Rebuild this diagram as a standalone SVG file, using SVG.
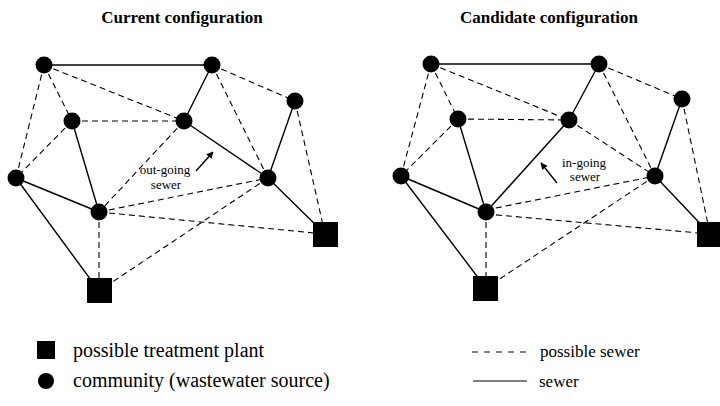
<svg xmlns="http://www.w3.org/2000/svg" width="720" height="406" viewBox="0 0 720 406">
<defs>
<style>
.sol{stroke:#000;stroke-width:1.4;fill:none}
.das{stroke:#000;stroke-width:1.1;fill:none;stroke-dasharray:6,4}
.nd{fill:#000}
.title{font-family:"Liberation Serif","Times New Roman",serif;font-weight:bold;font-size:17px;text-anchor:middle;fill:#000}
.lbl{font-family:"Liberation Serif","Times New Roman",serif;font-size:13px;text-anchor:middle;fill:#000}
.leg{font-family:"Liberation Serif","Times New Roman",serif;font-size:20px;fill:#000}
.leg2{font-family:"Liberation Serif","Times New Roman",serif;font-size:17px;fill:#000}
</style>
<marker id="ah" viewBox="0 0 10 10" refX="9" refY="5" markerWidth="7" markerHeight="7" orient="auto" markerUnits="userSpaceOnUse">
<path d="M0,0 L10,5 L0,10 z" fill="#000"/>
</marker>
</defs>
<rect width="720" height="406" fill="#fff"/>
<text class="title" x="182" y="23">Current configuration</text>
<text class="title" x="549" y="23">Candidate configuration</text>

<g id="connectors-left">
<line class="sol" x1="44" y1="65" x2="212" y2="65"/>
<line class="sol" x1="212" y1="65" x2="184" y2="121"/>
<line class="sol" x1="184" y1="121" x2="268" y2="178"/>
<line class="sol" x1="295" y1="101" x2="268" y2="178"/>
<line class="sol" x1="268" y1="178" x2="325" y2="234"/>
<line class="sol" x1="72" y1="121" x2="99" y2="212"/>
<line class="sol" x1="16" y1="178" x2="99" y2="212"/>
<line class="sol" x1="16" y1="178" x2="99" y2="291"/>
<line class="das" x1="44" y1="65" x2="72" y2="121"/>
<line class="das" x1="44" y1="65" x2="16" y2="178"/>
<line class="das" x1="44" y1="65" x2="184" y2="121"/>
<line class="das" x1="212" y1="65" x2="295" y2="101"/>
<line class="das" x1="212" y1="65" x2="268" y2="178"/>
<line class="das" x1="72" y1="121" x2="184" y2="121"/>
<line class="das" x1="72" y1="121" x2="16" y2="178"/>
<line class="das" x1="184" y1="121" x2="99" y2="212"/>
<line class="das" x1="99" y1="212" x2="268" y2="178"/>
<line class="das" x1="99" y1="212" x2="325" y2="234"/>
<line class="das" x1="268" y1="178" x2="99" y2="291"/>
<line class="das" x1="99" y1="212" x2="99" y2="291"/>
<line class="das" x1="295" y1="101" x2="325" y2="234"/>
<line class="sol" x1="196" y1="171" x2="213" y2="152" marker-end="url(#ah)"/>
</g>

<g id="connectors-right">
<line class="sol" x1="431" y1="64" x2="599" y2="64"/>
<line class="sol" x1="599" y1="64" x2="569" y2="120"/>
<line class="sol" x1="569" y1="120" x2="486" y2="212"/>
<line class="sol" x1="682" y1="99" x2="655" y2="176"/>
<line class="sol" x1="655" y1="176" x2="710" y2="234"/>
<line class="sol" x1="458" y1="119" x2="486" y2="212"/>
<line class="sol" x1="401" y1="176" x2="486" y2="212"/>
<line class="sol" x1="401" y1="176" x2="486" y2="288"/>
<line class="das" x1="431" y1="64" x2="458" y2="119"/>
<line class="das" x1="431" y1="64" x2="401" y2="176"/>
<line class="das" x1="431" y1="64" x2="569" y2="120"/>
<line class="das" x1="599" y1="64" x2="682" y2="99"/>
<line class="das" x1="599" y1="64" x2="655" y2="176"/>
<line class="das" x1="458" y1="119" x2="569" y2="120"/>
<line class="das" x1="458" y1="119" x2="401" y2="176"/>
<line class="das" x1="569" y1="120" x2="655" y2="176"/>
<line class="das" x1="486" y1="210" x2="655" y2="176"/>
<line class="das" x1="486" y1="214" x2="710" y2="234"/>
<line class="das" x1="655" y1="176" x2="486" y2="288"/>
<line class="das" x1="486" y1="212" x2="486" y2="288"/>
<line class="das" x1="682" y1="99" x2="710" y2="234"/>
<line class="sol" x1="557" y1="183" x2="541" y2="163" marker-end="url(#ah)"/>
</g>

<g id="labels">
<text class="lbl" x="165" y="174">out-going</text>
<text class="lbl" x="166" y="189">sewer</text>
<text class="lbl" x="584" y="167">in-going</text>
<text class="lbl" x="585" y="181">sewer</text>
</g>

<g id="left-A"><circle class="nd" cx="44" cy="65" r="8.5"/></g>
<g id="left-B"><circle class="nd" cx="212" cy="65" r="8.5"/></g>
<g id="left-C"><circle class="nd" cx="295" cy="101" r="8.5"/></g>
<g id="left-D"><circle class="nd" cx="72" cy="121" r="8.5"/></g>
<g id="left-E"><circle class="nd" cx="184" cy="121" r="8.5"/></g>
<g id="left-F"><circle class="nd" cx="16" cy="178" r="8.5"/></g>
<g id="left-G"><circle class="nd" cx="268" cy="178" r="8.5"/></g>
<g id="left-H"><circle class="nd" cx="99" cy="212" r="8.5"/></g>
<g id="left-P1"><rect class="nd" x="87" y="278" width="25" height="25"/></g>
<g id="left-P2"><rect class="nd" x="313" y="222" width="25" height="25"/></g>

<g id="right-A"><circle class="nd" cx="431" cy="64" r="8.5"/></g>
<g id="right-B"><circle class="nd" cx="599" cy="64" r="8.5"/></g>
<g id="right-C"><circle class="nd" cx="682" cy="99" r="8.5"/></g>
<g id="right-D"><circle class="nd" cx="458" cy="119" r="8.5"/></g>
<g id="right-E"><circle class="nd" cx="569" cy="120" r="8.5"/></g>
<g id="right-F"><circle class="nd" cx="401" cy="176" r="8.5"/></g>
<g id="right-G"><circle class="nd" cx="655" cy="176" r="8.5"/></g>
<g id="right-H"><circle class="nd" cx="486" cy="212" r="8.5"/></g>
<g id="right-P1"><rect class="nd" x="473" y="276" width="25" height="25"/></g>
<g id="right-P2"><rect class="nd" x="697" y="222" width="25" height="25"/></g>

<g id="legend">
<rect class="nd" x="37" y="341" width="18" height="18"/>
<text class="leg" x="73" y="357">possible treatment plant</text>
<circle class="nd" cx="46" cy="381" r="8"/>
<text class="leg" x="73" y="387">community (wastewater source)</text>
<line x1="472" y1="352" x2="527" y2="352" stroke="#000" stroke-width="1.1" stroke-dasharray="6,6"/>
<text class="leg2" x="540" y="357">possible sewer</text>
<line x1="473" y1="381" x2="527" y2="381" stroke="#000" stroke-width="1.2"/>
<text class="leg2" x="539" y="387">sewer</text>
</g>
</svg>
